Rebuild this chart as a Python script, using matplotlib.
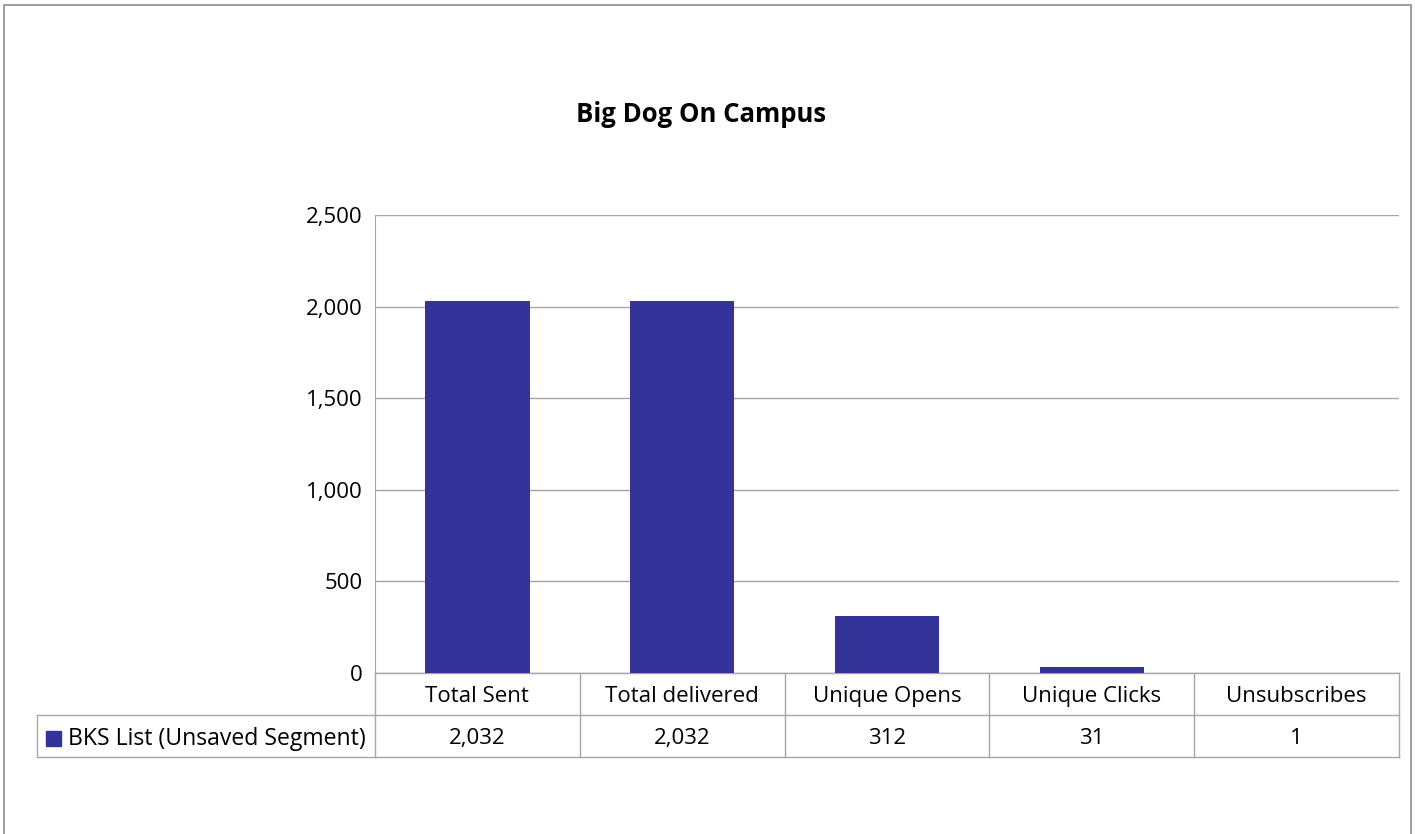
import matplotlib
matplotlib.use('Agg')
import matplotlib.pyplot as plt
from matplotlib.patches import Rectangle

categories = ['Total Sent', 'Total delivered', 'Unique Opens', 'Unique Clicks', 'Unsubscribes']
values = [2032, 2032, 312, 31, 1]
series_name = 'BKS List (Unsaved Segment)'
title = 'Big Dog On Campus'

BAR = '#333399'
GRID = '#a6a6a6'
FONT = 'Open Sans'
FS = 16

W, H = 1415, 834
fig = plt.figure(figsize=(W / 100, H / 100), dpi=100)

# outer chart border (bottom runs off the image)
fig.patches.append(Rectangle((4 / W, -0.05), (1411 - 4) / W, 1.05 - 5 / H,
                             transform=fig.transFigure, fill=False,
                             edgecolor='#8c8c8c', linewidth=1.2))

ax = fig.add_axes([375 / W, (H - 673) / H, (1399 - 375) / W, (673 - 215) / H])
x = list(range(len(categories)))
ax.bar(x, values, width=0.51, color=BAR, zorder=3)
ax.set_xlim(-0.5, len(categories) - 0.5)
ax.set_ylim(0, 2500)
ax.set_yticks(range(0, 2501, 500))
ax.set_yticklabels([f'{v:,}' for v in range(0, 2501, 500)], fontsize=FS, family=FONT)
ax.tick_params(axis='y', length=0, pad=9)
ax.set_xticks([])
ax.yaxis.grid(True, color=GRID, linewidth=1, zorder=0)
for s in ['top', 'right', 'bottom']:
    ax.spines[s].set_visible(False)
ax.spines['left'].set_color(GRID)

fig.text(701 / W, 1 - 114 / H, title, ha='center', va='center',
         fontsize=18.5, fontweight='bold', family=FONT)

# data table under the axis
r1 = -(715 - 673) / 458
r2 = -(757 - 673) / 458
left = (37 - 375) / 1024
tr = ax.get_xaxis_transform()
ln = dict(color=GRID, linewidth=1, clip_on=False, transform=ax.transAxes)
ax.plot([0, 1], [0, 0], **ln)
ax.plot([left, 1], [r1, r1], **ln)
ax.plot([left, 1], [r2, r2], **ln)
ax.plot([left, left], [r1, r2], **ln)
for i in range(len(categories) + 1):
    xa = i / len(categories)
    ax.plot([xa, xa], [0, r2], **ln)
mid1 = r1 / 2 - 0.006
mid2 = (r1 + r2) / 2 - 0.006
for i, (c, v) in enumerate(zip(categories, values)):
    ax.text(i, mid1, c, transform=tr, ha='center', va='center', fontsize=FS, family=FONT)
    ax.text(i, mid2, f'{v:,}', transform=tr, ha='center', va='center',
            fontsize=FS, family=FONT)
ax.add_patch(Rectangle(((46 - 375) / 1024, mid2 - 0.016), 15 / 1024, 15 / 458,
                       transform=ax.transAxes, color=BAR, clip_on=False))
ax.text((68 - 375) / 1024, mid2, series_name, transform=ax.transAxes,
        ha='left', va='center', fontsize=16.6, family=FONT)

fig.savefig('out.png', dpi=100)
